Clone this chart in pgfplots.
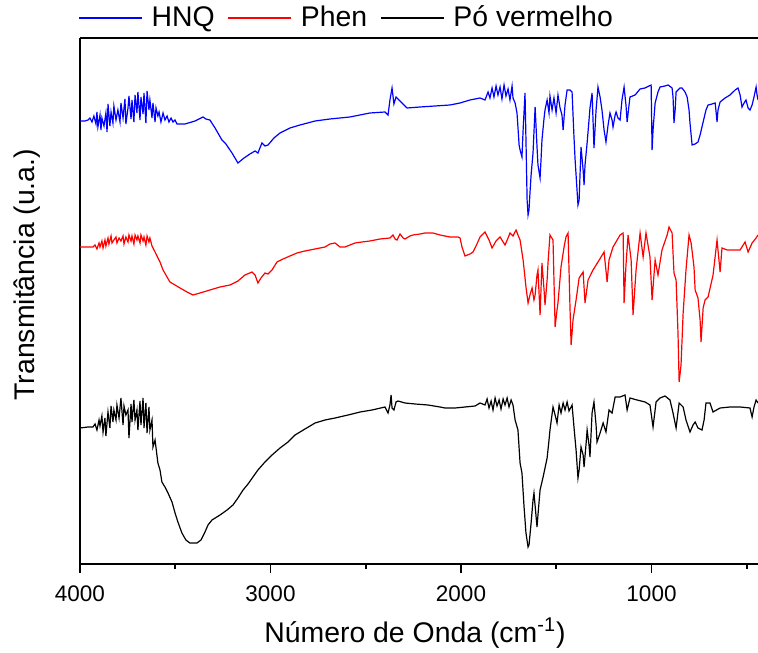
\documentclass[border=0pt]{standalone}
\usepackage{pgfplots}
\pgfplotsset{compat=1.18}
\usepackage{fontspec}
\setmainfont{Liberation Sans}
\newcommand{\fs}{\fontsize{11.25}{13.5}\selectfont}
\newcommand{\fl}{\fontsize{14.2}{17}\selectfont}
\begin{document}
\begin{tikzpicture}
\begin{axis}[
  scale only axis, width=339pt, height=263pt,
  x dir=reverse, xmin=441, xmax=4000, ymin=88, ymax=614,
  axis x line*=bottom, axis y line*=left,
  axis line style={line width=0.9pt, black},
  xtick={1000,2000,3000,4000}, minor xtick={500,1500,2500,3500},
  ytick=\empty,
  tick align=outside,
  major tick length=4.5pt, minor tick length=2.5pt,
  every tick/.style={black, line width=0.9pt},
  /pgf/number format/assume math mode=true,
  /pgf/number format/1000 sep={},
  tick label style={font=\fs},
  xticklabel style={yshift=-3pt},
  xlabel={Número de Onda (cm\textsuperscript{-1})},
  ylabel={Transmitância (u.a.)},
  every axis x label/.style={at={(axis description cs:0.494,-0.131)}, anchor=center, font=\fl},
  every axis y label/.style={at={(axis description cs:-0.078,0.55)}, anchor=center, rotate=90, font=\fl},
  clip=false,
  legend columns=3,
  legend style={at={(axis description cs:0,1)}, anchor=west, yshift=10pt, xshift=-4pt,
    draw=none, fill=none, font=\fl,
    /tikz/every odd column/.append style={column sep=4.5pt},
    /tikz/every even column/.append style={column sep=6.5pt},
    nodes={inner sep=0pt}},
  legend image code/.code={\draw[#1] (0pt,0pt) -- (31.5pt,0pt);},
  legend cell align=left,
]
\coordinate (sw) at (rel axis cs:0,0);
\coordinate (ne) at (rel axis cs:1,1);
\draw[line width=0.9pt] (rel axis cs:0,1) -- (rel axis cs:1,1);

\addplot[blue, line width=0.6pt] coordinates {
(4000,531)(3974,531)(3958,532)(3948,534)(3937,530)(3927,536)(3916,528)(3911,540)(3906,525)(3895,537)
(3890,522)(3885,534)(3874,526)(3864,539)(3858,520)(3853,548)(3843,526)(3837,540)(3827,529)(3822,546)
(3811,532)(3801,542)(3790,530)(3785,549)(3774,534)(3764,553)(3759,528)(3748,544)(3743,556)(3732,533)
(3727,552)(3717,530)(3711,557)(3701,539)(3696,560)(3685,532)(3680,555)(3669,538)(3664,559)(3654,529)
(3648,561)(3638,542)(3633,552)(3622,534)(3617,549)(3606,530)(3601,544)(3591,536)(3585,540)(3575,530)
(3564,539)(3554,532)(3543,536)(3533,530)(3522,534)(3512,530)(3501,532)(3491,528)(3449,528)(3396,531)
(3354,535)(3339,533)(3318,532)(3291,524)(3255,512)(3234,508)(3202,499)(3171,489)(3139,494)(3108,498)
(3081,501)(3066,499)(3045,509)(3029,506)(3013,507)(2982,514)(2950,519)(2898,524)(2845,527)(2766,531)
(2688,533)(2583,535)(2478,539)(2399,540)(2383,537)(2373,552)(2362,564)(2352,548)(2341,555)(2320,551)
(2283,544)(2215,545)(2136,546)(2058,547)(2005,549)(1953,552)(1900,554)(1874,552)(1858,560)(1848,554)
(1837,564)(1827,555)(1816,566)(1806,557)(1795,565)(1785,553)(1774,567)(1764,556)(1753,563)(1743,552)
(1732,566)(1727,554)(1716,549)(1706,539)(1695,507)(1690,502)(1680,495)(1674,522)(1664,559)(1659,512)
(1653,452)(1648,437)(1643,442)(1638,459)(1632,477)(1622,499)(1611,545)(1601,505)(1596,487)(1585,474)
(1580,492)(1575,512)(1564,534)(1559,542)(1548,552)(1538,539)(1533,556)(1522,542)(1512,554)(1501,539)
(1491,557)(1480,544)(1470,537)(1464,522)(1454,547)(1443,562)(1428,562)(1417,560)(1407,515)(1401,492)
(1391,462)(1386,447)(1380,452)(1370,505)(1359,482)(1354,467)(1349,487)(1338,509)(1328,532)(1323,544)
(1312,559)(1307,532)(1302,504)(1291,542)(1281,565)(1270,555)(1260,542)(1249,522)(1239,510)(1228,527)
(1218,539)(1207,532)(1202,525)(1191,537)(1186,540)(1176,534)(1165,532)(1155,552)(1144,565)(1134,547)
(1128,530)(1118,547)(1113,555)(1086,557)(1060,563)(1034,564)(1002,567)(997,502)(992,522)(981,549)
(966,560)(955,565)(929,566)(913,567)(892,564)(887,555)(882,529)(876,542)(871,560)(850,564)
(840,564)(824,560)(813,555)(803,542)(798,529)(787,507)(771,508)(756,510)(745,517)(729,530)
(714,542)(703,547)(682,548)(666,549)(661,540)(656,530)(651,542)(640,550)(614,554)(588,557)
(561,562)(546,564)(535,557)(525,545)(514,549)(504,552)(493,544)(483,542)(472,547)(462,555)
(451,565)(446,557)(441,552)
};
\addlegendentry{HNQ}

\addplot[red, line width=0.6pt] coordinates {
(4000,405)(3958,405)(3932,405)(3921,407)(3911,403)(3900,409)(3895,405)(3885,411)(3879,404)(3869,412)
(3864,406)(3853,414)(3848,408)(3837,416)(3832,409)(3822,412)(3811,415)(3806,409)(3795,414)(3785,411)
(3774,416)(3769,408)(3759,415)(3748,410)(3743,417)(3732,411)(3727,416)(3717,408)(3711,417)(3701,412)
(3696,416)(3685,409)(3680,417)(3669,411)(3664,415)(3654,407)(3648,416)(3638,410)(3633,414)(3622,406)
(3606,400)(3580,390)(3564,382)(3543,375)(3528,370)(3501,367)(3475,364)(3438,360)(3407,357)(3370,359)
(3318,362)(3265,365)(3213,367)(3171,371)(3134,377)(3097,380)(3081,377)(3066,369)(3050,374)(3029,379)
(3013,378)(2992,382)(2966,390)(2934,393)(2898,396)(2861,399)(2819,401)(2766,403)(2714,405)(2688,408)
(2661,409)(2635,405)(2609,405)(2583,407)(2556,409)(2520,410)(2478,411)(2425,413)(2373,414)(2357,417)
(2346,413)(2336,412)(2320,418)(2304,414)(2294,413)(2268,416)(2252,417)(2215,418)(2189,419)(2147,419)
(2110,417)(2084,416)(2058,415)(2016,415)(2005,414)(1995,405)(1979,396)(1953,398)(1937,400)(1921,406)
(1900,415)(1874,420)(1853,412)(1837,404)(1816,411)(1795,415)(1769,407)(1753,414)(1743,419)(1727,416)
(1711,422)(1701,417)(1690,412)(1674,392)(1659,365)(1648,349)(1638,357)(1627,364)(1617,352)(1611,357)
(1601,377)(1596,382)(1585,337)(1575,389)(1564,362)(1559,347)(1548,372)(1543,390)(1533,417)(1517,412)
(1512,372)(1506,325)(1496,342)(1491,349)(1475,385)(1459,405)(1449,415)(1438,419)(1428,345)(1422,307)
(1412,332)(1396,352)(1380,374)(1359,380)(1349,349)(1333,372)(1307,382)(1281,390)(1249,400)(1233,370)
(1223,392)(1202,405)(1165,417)(1149,419)(1144,349)(1134,387)(1123,417)(1107,392)(1097,337)(1081,382)
(1060,419)(1044,395)(1029,419)(1008,395)(997,352)(981,392)(966,377)(945,402)(918,417)(908,425)
(892,419)(882,379)(871,372)(861,319)(855,270)(845,287)(834,339)(819,382)(803,417)(792,409)
(777,385)(771,362)(756,354)(745,332)(740,310)(729,344)(719,352)(703,355)(677,377)(656,412)
(640,380)(630,404)(603,402)(561,402)(535,402)(509,410)(493,400)(472,409)(451,414)(441,417)
};
\addlegendentry{Phen}

\addplot[black, line width=0.6pt] coordinates {
(4000,224)(3958,225)(3932,225)(3921,228)(3911,222)(3900,232)(3895,226)(3885,236)(3879,220)(3869,234)
(3864,216)(3853,240)(3843,224)(3837,246)(3827,230)(3822,242)(3811,232)(3806,247)(3795,234)(3785,254)
(3774,227)(3769,246)(3759,237)(3748,242)(3743,214)(3732,248)(3727,230)(3717,252)(3711,232)(3701,242)
(3696,222)(3685,251)(3680,227)(3669,254)(3664,224)(3654,249)(3648,219)(3638,245)(3633,222)(3622,232)
(3617,205)(3606,212)(3591,189)(3580,182)(3570,170)(3554,165)(3538,159)(3517,150)(3501,139)(3486,130)
(3465,119)(3444,112)(3423,109)(3386,109)(3365,112)(3344,120)(3328,127)(3307,132)(3265,137)(3228,142)
(3197,147)(3171,154)(3144,162)(3118,168)(3092,175)(3066,182)(3029,190)(2992,197)(2950,204)(2908,210)
(2871,217)(2819,223)(2766,229)(2714,232)(2661,234)(2593,237)(2530,240)(2467,242)(2399,245)(2383,239)
(2373,247)(2367,257)(2362,244)(2352,242)(2341,250)(2331,251)(2294,249)(2241,248)(2173,247)(2110,245)
(2084,244)(2031,244)(1979,245)(1926,246)(1900,249)(1874,247)(1863,253)(1853,244)(1842,251)(1832,242)
(1821,254)(1811,246)(1800,252)(1790,243)(1779,253)(1769,247)(1758,254)(1748,245)(1737,252)(1727,247)
(1716,232)(1701,222)(1690,189)(1680,179)(1669,145)(1659,119)(1648,105)(1643,107)(1632,129)(1622,152)
(1617,159)(1601,125)(1596,137)(1585,162)(1569,175)(1548,194)(1538,212)(1533,222)(1517,245)(1506,237)
(1496,229)(1485,247)(1475,239)(1464,249)(1454,242)(1443,250)(1433,241)(1417,247)(1407,225)(1396,202)
(1386,174)(1380,182)(1370,205)(1359,197)(1354,185)(1344,207)(1338,222)(1328,207)(1323,195)(1312,239)
(1302,250)(1291,227)(1286,210)(1270,219)(1254,229)(1239,220)(1223,242)(1207,239)(1191,255)(1165,255)
(1139,257)(1128,242)(1113,254)(1076,252)(1034,250)(1008,247)(992,225)(976,250)(955,254)(929,256)
(903,252)(887,239)(871,224)(855,249)(834,245)(819,232)(798,220)(782,227)(771,230)(756,224)
(735,222)(724,232)(714,249)(693,249)(677,240)(640,244)(588,245)(535,245)(483,244)(472,235)
(462,245)(451,252)(441,249)
};
\addlegendentry{Pó vermelho}
\end{axis}
\pgfresetboundingbox
\path[use as bounding box] ([xshift=-40pt,yshift=-44pt]sw) rectangle ([yshift=19pt]ne);
\end{tikzpicture}
\end{document}
